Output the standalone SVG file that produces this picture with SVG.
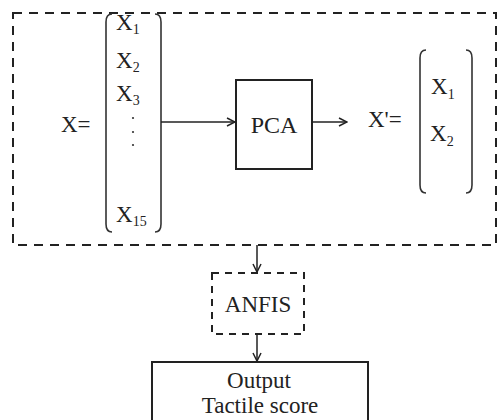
<svg xmlns="http://www.w3.org/2000/svg" width="498" height="420" viewBox="0 0 498 420">
<defs>
<style>
text{font-family:"Liberation Serif","Times New Roman",serif;fill:#222;}
.t{font-size:23px;}
.s{font-size:14px;}
.br{fill:none;stroke:#333;stroke-width:1.6;}
.ln{fill:none;stroke:#222;stroke-width:1.5;}
</style>
<marker id="ah" viewBox="0 0 10 10" refX="9" refY="5" markerWidth="10" markerHeight="10" markerUnits="userSpaceOnUse" orient="auto">
<path d="M1,1 L9,5 L1,9" fill="none" stroke="#222" stroke-width="1.5"/>
</marker>
</defs>
<rect width="498" height="420" fill="#fff"/>
<g id="outer">
<rect x="13" y="13" width="483" height="232" fill="none" stroke="#222" stroke-width="2" stroke-dasharray="9,7"/>
</g>
<g id="inputVector">
<text class="t" x="61" y="132">X=</text>
<path class="br" d="M112,14 Q106,14 106,22 V224 Q106,232 112,232"/>
<path class="br" d="M155,14 Q161,14 161,22 V224 Q161,232 155,232"/>
<text class="t" x="116" y="30">X<tspan class="s" dy="4">1</tspan></text>
<text class="t" x="116" y="68">X<tspan class="s" dy="4">2</tspan></text>
<text class="t" x="116" y="101">X<tspan class="s" dy="4">3</tspan></text>
<circle cx="133" cy="118" r="1.1" fill="#333"/>
<circle cx="133" cy="132" r="1.1" fill="#333"/>
<circle cx="133" cy="145" r="1.1" fill="#333"/>
<text class="t" x="116" y="222">X<tspan class="s" dy="4">15</tspan></text>
</g>
<g id="pca">
<rect x="236" y="80" width="76" height="89" fill="none" stroke="#222" stroke-width="2"/>
<text class="t" x="274" y="133" text-anchor="middle" style="font-size:24px">PCA</text>
</g>
<g id="outputVector">
<text class="t" x="368" y="127">X'=</text>
<path class="br" d="M426,50 Q420,50 420,58 V185 Q420,193 426,193"/>
<path class="br" d="M466,50 Q472,50 472,58 V185 Q472,193 466,193"/>
<text class="t" x="431" y="94">X<tspan class="s" dy="5">1</tspan></text>
<text class="t" x="430" y="141">X<tspan class="s" dy="5">2</tspan></text>
</g>
<g id="anfis">
<rect x="212" y="273" width="92" height="61" fill="none" stroke="#222" stroke-width="2" stroke-dasharray="7,6"/>
<text class="t" x="258" y="312" text-anchor="middle">ANFIS</text>
</g>
<g id="output">
<rect x="152" y="362" width="216" height="70" fill="none" stroke="#222" stroke-width="2"/>
<text class="t" x="259" y="388" text-anchor="middle">Output</text>
<text class="t" x="260" y="413" text-anchor="middle">Tactile score</text>
</g>
<g id="connectors">
<line class="ln" x1="161" y1="122" x2="235" y2="122" marker-end="url(#ah)"/>
<line class="ln" x1="312" y1="122" x2="347" y2="122" marker-end="url(#ah)"/>
<line class="ln" x1="257" y1="245" x2="257" y2="272" marker-end="url(#ah)"/>
<line class="ln" x1="257" y1="334" x2="257" y2="361" marker-end="url(#ah)"/>
</g>
</svg>
